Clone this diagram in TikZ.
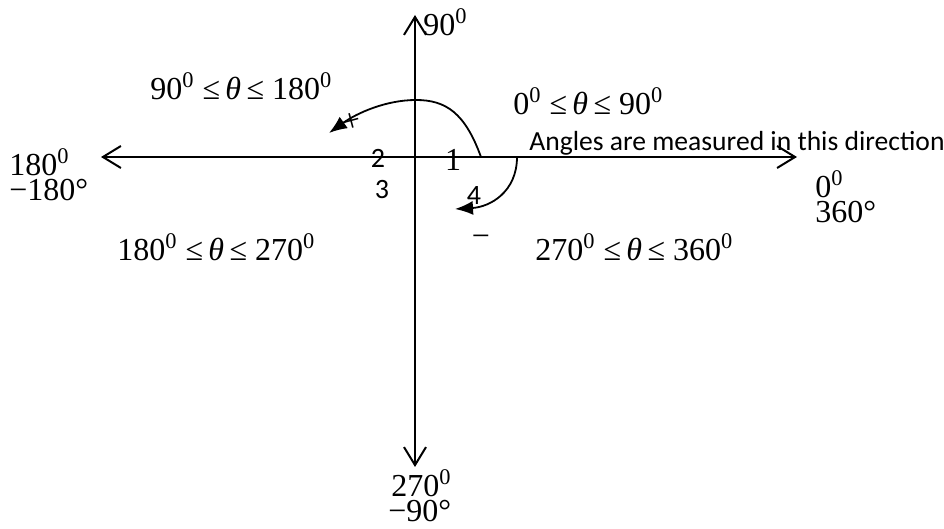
\documentclass[tikz,border=0pt]{standalone}
\usepackage{fontspec}
\setmainfont{Liberation Serif}
\newfontfamily\carl{Carlito}
\usetikzlibrary{arrows.meta}
\tikzset{
  axis/.style={line width=1pt,{Straight Barb[length=9pt,width=11pt,line width=1pt]}-{Straight Barb[length=9pt,width=11pt,line width=1pt]}},
  curvearrow/.style={line width=0.9pt,-{Latex[length=9pt,width=7pt]}},
  lbl/.style={inner sep=0pt,font=\fontsize{16}{11}\selectfont},
  stack/.style={inner sep=0pt,align=left,font=\fontsize{16}{12.5}\selectfont},
  num/.style={inner sep=0pt,font=\carl\fontsize{14}{16}\selectfont},
  note/.style={inner sep=0pt,font=\carl\fontsize{13.8}{16}\selectfont},
}
\newcommand{\dg}{\textsuperscript{0}}
\newcommand{\rng}[2]{#1\dg{} ≤\,\textit{θ}\,≤ #2\dg}
\begin{document}
\begin{tikzpicture}[x=0.5pt,y=-0.5pt]
\useasboundingbox (0,0) rectangle (944,529);
\coordinate (L) at (101,157);
\coordinate (R) at (797,157);
\coordinate (T) at (415,15);
\coordinate (B) at (415,467);
\draw[axis] (L) -- (R);
\draw[axis] (T) -- (B);
% curves
\coordinate (c1s) at (481,157);
\coordinate (c1m) at (416,100);
\coordinate (c1e) at (329,133);
\draw[curvearrow] (c1s) .. controls (465,113) and (446,100) .. (c1m) .. controls (386,100) and (357,113) .. (c1e);
\coordinate (c2s) at (517,157);
\coordinate (c2e) at (455,209);
\draw[curvearrow] (c2s) .. controls (517,192) and (490,207) .. (c2e);
% labels
\node[lbl,anchor=west] (l90) at (423,22) {90\dg};
\node[lbl,anchor=west] (q2) at (150,86) {\rng{90}{180}};
\node[lbl,anchor=west] (q1) at (513,101) {\rng{0}{90}};
\node[note,anchor=base west] (ang) at (529,151) {Angles are measured in this direction};
\node[stack,anchor=base west] (l180) at (9,201) {180\dg\\−180°};
\node[stack,anchor=base west] (l0) at (815,223) {0\dg\\360°};
\node[lbl,anchor=west] (q3) at (117,247) {\rng{180}{270}};
\node[lbl,anchor=west] (q4) at (535,247) {\rng{270}{360}};
\node[stack,anchor=base west] (l270) at (388,522) {\hspace{1.5pt}270\dg\\−90°};
\node[num] (n2) at (378,158) {2};
\node[lbl] (n1) at (453,160) {1};
\node[num] (n3) at (382,190) {3};
\node[num] (n4) at (474,196) {4};
\node[lbl,rotate=15] (plus) at (352,122) {+};
\node[lbl] (minus) at (481,241) {−};
\end{tikzpicture}
\end{document}
